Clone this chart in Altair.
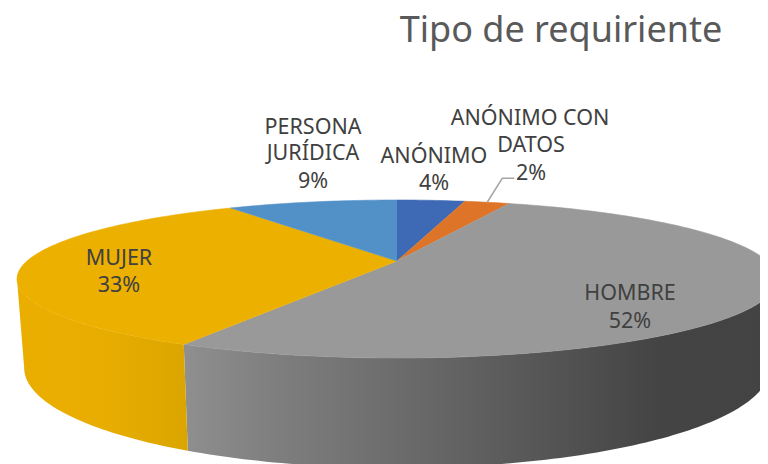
import math
import altair as alt
import pandas as pd

title_text = "Tipo de requiriente"
# clockwise from 12 o'clock
categories = ["ANÓNIMO", "ANÓNIMO CON DATOS", "HOMBRE", "MUJER", "PERSONA JURÍDICA"]
shares = [3.6, 2.4, 51.6, 33.4, 9.0]
top_colors = ["#3e6ab5", "#de7428", "#999999", "#ecb000", "#5290c8"]

# perspective of the 3D pie
CX, K = 397, 0.228
TOP = dict(a=370, b=74.9, cy=261)
BASE = dict(a=363, b=94.8, cy=345.2)


def project(theta, plane):
    X, Y = math.sin(theta), math.cos(theta)
    w = 1 + K * Y
    return CX + plane["a"] * X / w, plane["cy"] - plane["b"] * Y / w


def arc(a0, a1, plane):
    n = max(2, int(abs(a1 - a0) / math.radians(1)))
    return [project(a0 + (a1 - a0) * i / n, plane) for i in range(n + 1)]


def poly(points):
    return pd.DataFrame({"x": [p[0] for p in points], "y": [p[1] for p in points],
                         "o": list(range(len(points)))})


xs = alt.Scale(domain=[8, 760])
ys = alt.Scale(domain=[464, 8])


def shape(points, fill, stroke=None):
    kw = dict(fill=fill, interpolate="linear")
    if stroke:
        kw.update(stroke=stroke, strokeWidth=0.6)
    else:
        kw.update(strokeWidth=0, strokeOpacity=0)
    return alt.Chart(poly(points)).mark_line(**kw).encode(
        x=alt.X("x:Q", scale=xs, axis=None),
        y=alt.Y("y:Q", scale=ys, axis=None),
        order="o:Q",
    )


bounds = [0.0]
for s in shares:
    bounds.append(bounds[-1] + s)
ang = [b / 100 * 2 * math.pi for b in bounds]
tangent_r = math.acos(-K)
tangent_l = 2 * math.pi - tangent_r

layers = []

# side walls
hombre_wall = arc(tangent_r, ang[3], TOP) + arc(ang[3], tangent_r, BASE)
mujer_wall = arc(ang[3], tangent_l, TOP) + arc(tangent_l, ang[3], BASE)
grad_h = alt.LinearGradient(gradient="linear", x1=0, x2=1, y1=0, y2=0, stops=[
    alt.GradientStop(offset=0, color="#8f8f8f"),
    alt.GradientStop(offset=0.15, color="#7f7f7f"),
    alt.GradientStop(offset=0.6, color="#565656"),
    alt.GradientStop(offset=0.8, color="#444444"),
    alt.GradientStop(offset=1, color="#434343"),
])
grad_m = alt.LinearGradient(gradient="linear", x1=0, x2=1, y1=0, y2=0, stops=[
    alt.GradientStop(offset=0, color="#e9ae00"),
    alt.GradientStop(offset=0.5, color="#e8ad00"),
    alt.GradientStop(offset=1, color="#dba500"),
])
layers += [shape(hombre_wall, grad_h), shape(mujer_wall, grad_m)]

# top surface
for i, c in enumerate(top_colors):
    pts = [(CX, TOP["cy"])] + arc(ang[i], ang[i + 1], TOP)
    layers.append(shape(pts, c, c))

# leader line for the thin slice
mid = (ang[1] + ang[2]) / 2
sx, sy = project(mid, TOP)
leader = [(sx, sy), (sx + 15, sy - 24), (sx + 27, sy - 24)]
layers.append(alt.Chart(poly(leader)).mark_line(color="#a6a6a6", strokeWidth=1.5).encode(
    x=alt.X("x:Q", scale=xs, axis=None), y=alt.Y("y:Q", scale=ys, axis=None), order="o:Q"))

# labels
pct = {c: f"{round(s)}%" for c, s in zip(categories, shares)}
label_rows = [
    ("PERSONA", 313, 134), ("JURÍDICA", 313, 160), (pct["PERSONA JURÍDICA"], 313, 188),
    ("ANÓNIMO", 434, 163), (pct["ANÓNIMO"], 434, 190),
    ("ANÓNIMO CON", 530, 125), ("DATOS", 531, 152), (pct["ANÓNIMO CON DATOS"], 531, 180),
    ("MUJER", 119, 265), (pct["MUJER"], 119, 292),
    ("HOMBRE", 630, 300), (pct["HOMBRE"], 630, 328),
]
labels = pd.DataFrame(label_rows, columns=["t", "x", "y"])
layers.append(alt.Chart(labels).mark_text(
    font="Noto Sans", fontSize=21.5, color="#404040", align="center", baseline="alphabetic"
).encode(x=alt.X("x:Q", scale=xs, axis=None), y=alt.Y("y:Q", scale=ys, axis=None), text="t:N"))

title_df = pd.DataFrame({"t": [title_text], "x": [561], "y": [42]})
layers.append(alt.Chart(title_df).mark_text(
    font="Noto Sans", fontSize=36, color="#595959", align="center", baseline="alphabetic"
).encode(x=alt.X("x:Q", scale=xs, axis=None), y=alt.Y("y:Q", scale=ys, axis=None), text="t:N"))

chart = alt.layer(*layers).properties(
    width=752, height=456, padding=0,
    autosize=alt.AutoSizeParams(type="none"),
).configure_view(stroke=None)

chart.save("out.html", embed_options={"renderer": "svg", "actions": False})
